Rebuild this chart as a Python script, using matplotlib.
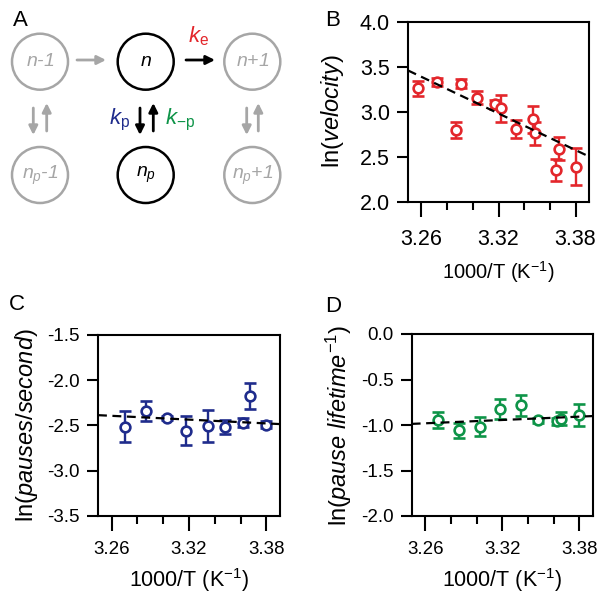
import matplotlib.pyplot as plt
from matplotlib.patches import Circle
from matplotlib.ticker import MultipleLocator
import numpy as np

plt.rcParams['font.family'] = ['Liberation Sans', 'DejaVu Sans']
plt.rcParams['mathtext.fontset'] = 'custom'
plt.rcParams['mathtext.rm'] = 'Liberation Sans'
plt.rcParams['mathtext.it'] = 'Liberation Sans:italic'

# B: ln(velocity)
vel_x = [3.257, 3.272, 3.2866, 3.2905, 3.303, 3.317, 3.322, 3.334, 3.347, 3.3485, 3.3645, 3.367, 3.380]
vel_y = [3.26, 3.33, 2.80, 3.31, 3.156, 3.085, 3.04, 2.81, 2.915, 2.76, 2.35, 2.59, 2.39]
vel_err = [0.08, 0.04, 0.09, 0.05, 0.075, 0.05, 0.15, 0.10, 0.15, 0.13, 0.12, 0.13, 0.21]
vel_fit = (-6.78, 25.49)

# C: ln(pauses/second)
pause_x = [3.2704, 3.2867, 3.3028, 3.3178, 3.3345, 3.348, 3.362, 3.367, 3.380]
pause_y = [-2.515, -2.34, -2.415, -2.56, -2.507, -2.515, -2.47, -2.175, -2.49]
pause_err = [0.17, 0.11, 0.02, 0.16, 0.18, 0.08, 0.05, 0.14, 0.04]
pause_fit = (-0.70, -0.111)

# D: ln(pause lifetime^-1)
life_x = [3.270, 3.2867, 3.3027, 3.3186, 3.335, 3.348, 3.363, 3.366, 3.380]
life_y = [-0.943, -1.06, -1.017, -0.82, -0.785, -0.95, -0.958, -0.93, -0.888]
life_err = [0.09, 0.08, 0.10, 0.11, 0.12, 0.03, 0.04, 0.07, 0.12]
life_fit = (0.61, -2.970)

RED = '#e3262b'
BLUE = '#1f2c8c'
GREEN = '#0e9448'
GRAY = '#a6a6a6'

W, H = 603, 597
fig = plt.figure(figsize=(W / 100, H / 100), dpi=100)


def px_axes(left, top, right, bottom):
    return fig.add_axes([left / W, 1 - bottom / H, (right - left) / W, (bottom - top) / H])


def scatter_panel(ax, x, y, err, fit, color, ylim, tick_fs, xlab_fs, ylab_fs, ylabel, ypad, xlab_pad):
    xlim = (3.2495, 3.3905)
    ax.errorbar(x, y, yerr=err, fmt='o', ms=7, mfc='white', mec=color, mew=1.9,
                ecolor=color, elinewidth=1.7, capsize=4, capthick=1.7, zorder=3)
    xs = np.array(xlim)
    ax.plot(xs, fit[0] * xs + fit[1], ls=(0, (4, 2.5)), color='black', lw=1.6, zorder=4)
    ax.set_xlim(*xlim)
    ax.set_ylim(*ylim)
    ax.xaxis.set_minor_locator(MultipleLocator(0.02))
    ax.set_xticks([3.26, 3.32, 3.38])
    ax.set_xticklabels(['3.26', '3.32', '3.38'])
    ax.yaxis.set_major_locator(MultipleLocator(0.5))
    ax.yaxis.set_major_formatter(plt.FormatStrFormatter('%.1f'))
    ax.tick_params(axis='x', which='major', direction='out', length=11, width=1.5,
                   labelsize=tick_fs, pad=xlab_pad)
    ax.tick_params(axis='x', which='minor', direction='out', length=6, width=1.5)
    ax.tick_params(axis='y', direction='out', length=8, width=1.5, labelsize=tick_fs, pad=5)
    for s in ax.spines.values():
        s.set_linewidth(1.5)
    ax.set_xlabel('1000/T (K$^{-1}$)', fontsize=xlab_fs, labelpad=6)
    ax.set_ylabel(ylabel, fontsize=ylab_fs, labelpad=ypad)


axB = px_axes(408, 21.7, 589, 201.7)
scatter_panel(axB, vel_x, vel_y, vel_err, vel_fit, RED, (2.0, 4.0), 15.5, 14.5, 17,
              'ln($\\mathit{velocity}$)', 10, 9)

axC = px_axes(98, 335, 280, 516)
scatter_panel(axC, pause_x, pause_y, pause_err, pause_fit, BLUE, (-3.5, -1.5), 13.5, 15.5, 17,
              'ln($\\mathit{pauses/second}$)', 5, 7)

axD = px_axes(411.7, 334, 592.7, 516)
scatter_panel(axD, life_x, life_y, life_err, life_fit, GREEN, (-2.0, 0.0), 13.5, 15.5, 17,
              'ln($\\mathit{pause\\ lifetime}^{-1}$)', 5, 7)

# A: kinetic scheme
axA = px_axes(0, 0, 300, 300)
axA.set_xlim(0, 300)
axA.set_ylim(300, 0)
axA.axis('off')

states = [
    (40, 61.7, '$n$-1', GRAY), (145.7, 61.7, '$n$', 'black'), (252.3, 61.7, '$n$+1', GRAY),
    (40, 175, '$n_p$-1', GRAY), (145.7, 175, '$n_p$', 'black'), (252.3, 175, '$n_p$+1', GRAY),
]
for cx, cy, label, c in states:
    axA.add_patch(Circle((cx, cy), 28, fill=False, ec=c, lw=1.8))
    axA.text(cx, cy, label, color=c, fontsize=14, style='italic', ha='center', va='center')


def arrow(x0, y0, x1, y1, c):
    axA.annotate('', xy=(x1, y1), xytext=(x0, y0),
                 arrowprops=dict(arrowstyle='-|>', color=c, lw=2, mutation_scale=13,
                                 shrinkA=0, shrinkB=0))


arrow(77, 60, 106, 60, GRAY)
arrow(186, 60, 215, 60, 'black')
for xd, xu, c in [(33.3, 46.7, GRAY), (140, 153.3, 'black'), (246.7, 258.3, GRAY)]:
    arrow(xd, 108, xd, 135, c)
    arrow(xu, 131, xu, 103, c)

axA.text(199, 36, '$k_\\mathrm{e}$', color=RED, fontsize=16, ha='center', va='center')
axA.text(120, 120, '$k_\\mathrm{p}$', color=BLUE, fontsize=16, ha='center', va='center')
axA.text(180, 120, '$k_\\mathrm{-p}$', color=GREEN, fontsize=16, ha='center', va='center')

# panel letters
for lx, ly, t in [(20, 20, 'A'), (333, 21, 'B'), (17, 305, 'C'), (333, 306, 'D')]:
    fig.text(lx / W, 1 - ly / H, t, fontsize=16, ha='center', va='center')

fig.savefig('out.png', dpi=100, facecolor='white')
